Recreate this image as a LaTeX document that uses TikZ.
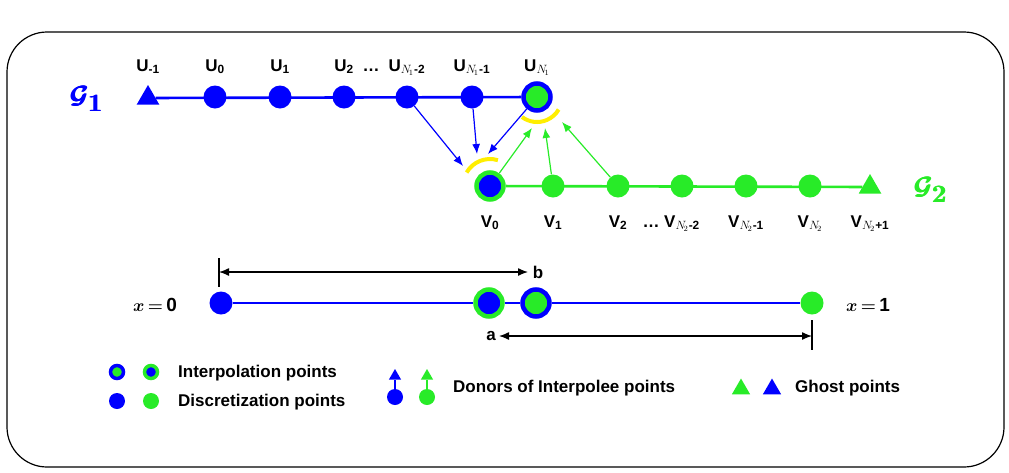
\documentclass[tikz,border=0pt]{standalone}
\usepackage{amsmath}
\usepackage{bm}
\usepackage{fontspec}
\setmainfont{Liberation Sans}
\usetikzlibrary{arrows.meta,shapes.geometric}
\definecolor{cb}{RGB}{0,0,255}
\definecolor{cg}{RGB}{40,235,40}
\definecolor{cy}{RGB}{255,238,0}
\begin{document}
\begin{tikzpicture}[x=1pt,y=-1pt,
  lab/.style={font=\fontsize{17}{20}\selectfont\bfseries,anchor=base,inner sep=0pt},
  leg/.style={font=\fontsize{17}{20}\selectfont\bfseries,anchor=west,inner sep=0pt},
  gname/.style={font=\fontsize{36}{36}\selectfont\boldmath,inner sep=0pt},
  xlab/.style={font=\fontsize{19}{22}\selectfont\boldmath},
  bdot/.style={circle,fill=cb,minimum size=23pt,inner sep=0pt},
  gdot/.style={circle,fill=cg,minimum size=23pt,inner sep=0pt},
  ipg/.style={circle,fill=cg,draw=cb,line width=4.5pt,minimum size=27pt,inner sep=0pt},
  ipb/.style={circle,fill=cb,draw=cg,line width=4.5pt,minimum size=27pt,inner sep=0pt},
  btri/.style={regular polygon,regular polygon sides=3,fill=cb,minimum size=26pt,inner sep=0pt},
  gtri/.style={regular polygon,regular polygon sides=3,fill=cg,minimum size=26pt,inner sep=0pt},
  lbdot/.style={circle,fill=cb,minimum size=16pt,inner sep=0pt},
  lgdot/.style={circle,fill=cg,minimum size=16pt,inner sep=0pt},
  lipg/.style={circle,fill=cg,draw=cb,line width=3.5pt,minimum size=13pt,inner sep=0pt},
  lipb/.style={circle,fill=cb,draw=cg,line width=3.5pt,minimum size=13pt,inner sep=0pt},
  lbtri/.style={regular polygon,regular polygon sides=3,fill=cb,minimum size=21pt,inner sep=0pt},
  lgtri/.style={regular polygon,regular polygon sides=3,fill=cg,minimum size=21pt,inner sep=0pt},
  lsbtri/.style={regular polygon,regular polygon sides=3,fill=cb,minimum size=14pt,inner sep=0pt},
  lsgtri/.style={regular polygon,regular polygon sides=3,fill=cg,minimum size=14pt,inner sep=0pt},
  gridline/.style={line width=2.6pt},
  donor/.style={line width=1.2pt,-{Latex[length=10pt,width=8pt]}},
  dim/.style={line width=1.3pt,{Latex[length=10pt,width=8pt]}-{Latex[length=10pt,width=8pt]}},
  tick/.style={line width=1.6pt},
  arcy/.style={cy,line width=4pt}
]
\useasboundingbox (0,0) rectangle (1009,472);
\draw[line width=1.2pt,rounded corners=40pt] (7,32) rectangle (1004,467);

% grid G1
\node[btri] (um1) at (148,98) {};
\node[bdot] (u0) at (215,97) {};
\node[bdot] (u1) at (280,97) {};
\node[bdot] (u2) at (344,97) {};
\node[bdot] (un2) at (407,97) {};
\node[bdot] (un1) at (472,97) {};
\node[ipg] (un) at (537,97) {};
\draw[cb,gridline] (um1) -- (un);

\node[lab] (lum1) at (148,71) {U\textsubscript{-1}};
\node[lab] (lu0) at (215,71) {U\textsubscript{0}};
\node[lab] (lu1) at (280,71) {U\textsubscript{1}};
\node[lab] (lu2) at (344,71) {U\textsubscript{2}};
\node[lab] (ldots1) at (371,71) {\dots};
\node[lab] (lun2) at (407,71) {U$_{N_{\!1}}$\textsubscript{-2}};
\node[lab] (lun1) at (472,71) {U$_{N_{\!1}}$\textsubscript{-1}};
\node[lab] (lun) at (537,71) {U$_{N_{\!1}}$};
\node[cb,gname] (G1) at (87,99) {$\pmb{\mathcal{G}}_{\pmb{1}}$};

% grid G2
\node[ipb] (v0) at (490,186) {};
\node[gdot] (v1) at (553,186) {};
\node[gdot] (v2) at (618,186) {};
\node[gdot] (vn2) at (682,186) {};
\node[gdot] (vn1) at (746,186) {};
\node[gdot] (vn) at (810,186) {};
\node[gtri] (vp1) at (870,187) {};
\draw[cg,gridline] (v0) -- (vp1);

\node[lab] (lv0) at (490,227) {V\textsubscript{0}};
\node[lab] (lv1) at (553,227) {V\textsubscript{1}};
\node[lab] (lv2) at (618,227) {V\textsubscript{2}};
\node[lab] (ldots2) at (651,227) {\dots};
\node[lab] (lvn2) at (682,227) {V$_{N_{\!2}}$\textsubscript{-2}};
\node[lab] (lvn1) at (746,227) {V$_{N_{\!2}}$\textsubscript{-1}};
\node[lab] (lvn) at (810,227) {V$_{N_{\!2}}$};
\node[lab] (lvp1) at (870,227) {V$_{N_{\!2}}$\textsubscript{+1}};
\node[cg,gname] (G2) at (931,190) {$\pmb{\mathcal{G}}_{\pmb{2}}$};

% yellow arcs
\draw[arcy] ([shift={(73:27pt)}]v0.center) arc[start angle=73,end angle=150,radius=27pt];
\draw[arcy] ([shift={(233:25pt)}]un.center) arc[start angle=233,end angle=330,radius=25pt];

% donor arrows
\coordinate (tb1) at (463,166);
\coordinate (tb2) at (477,154);
\coordinate (tb3) at (488,154);
\coordinate (tg1) at (532,128);
\coordinate (tg2) at (545,128);
\coordinate (tg3) at (562,122);
\draw[cb,donor] (un2) -- (tb1);
\draw[cb,donor] (un1) -- (tb2);
\draw[cb,donor] (un) -- (tb3);
\draw[cg,donor] (v0) -- (tg1);
\draw[cg,donor] (v1) -- (tg2);
\draw[cg,donor] (v2) -- (tg3);

% bottom line
\node[bdot] (p0) at (221,303) {};
\node[ipb] (p1) at (489,303) {};
\node[ipg] (p2) at (536,303) {};
\node[gdot] (p3) at (812,303) {};
\draw[cb,gridline] (p0) -- (p1);
\draw[cb,gridline] (p1) -- (p2);
\draw[cb,gridline] (p2) -- (p3);
\node[xlab] (x0) at (155,305) {$x\,{=}\,$\textbf{0}};
\node[xlab] (x1) at (868,305) {$x\,{=}\,$\textbf{1}};

% dimensions
\coordinate (k1a) at (219,258);
\coordinate (k1b) at (219,287);
\coordinate (d1a) at (219,272);
\coordinate (d1b) at (528,272);
\draw[tick] (k1a) -- (k1b);
\draw[dim] (d1a) -- (d1b);
\node[lab,anchor=center] (lb) at (538,272) {b};
\coordinate (k2a) at (812,320);
\coordinate (k2b) at (812,350);
\coordinate (d2a) at (499,336);
\coordinate (d2b) at (812,336);
\draw[tick] (k2a) -- (k2b);
\draw[dim] (d2a) -- (d2b);
\node[lab,anchor=center] (la) at (491,336) {a};

% legend
\node[lipg] (lg1) at (117,372) {};
\node[lipb] (lg2) at (151,372) {};
\node[lbdot] (lg3) at (117,401) {};
\node[lgdot] (lg4) at (151,401) {};
\node[leg] (t1) at (178,373) {Interpolation points};
\node[leg] (t2) at (178,402) {Discretization points};

\node[lbdot] (db) at (395,397) {};
\node[lgdot] (dg) at (427,397) {};
\node[lsbtri] (dbt) at (395,376) {};
\node[lsgtri] (dgt) at (427,376) {};
\draw[cb,line width=1.2pt] (db) -- (dbt);
\draw[cg,line width=1.2pt] (dg) -- (dgt);
\node[leg] (t3) at (453,388) {Donors of Interpolee points};

\node[lgtri] (gt1) at (741,389) {};
\node[lbtri] (gt2) at (772,389) {};
\node[leg] (t4) at (795,388) {Ghost points};
\end{tikzpicture}
\end{document}
